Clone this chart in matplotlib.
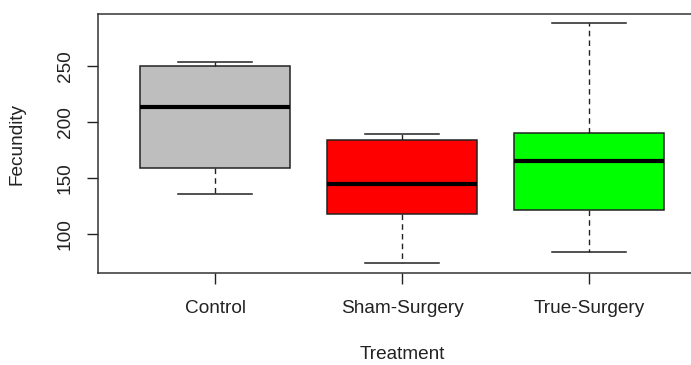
import matplotlib
matplotlib.use('Agg')
import matplotlib.pyplot as plt

plt.rcParams['font.family'] = ['Liberation Sans', 'DejaVu Sans']

# boxplot summary values
treatments = ['Control', 'Sham-Surgery', 'True-Surgery']
whisker_low = [135.6, 74.2, 84.5]
quartile_1 = [159.1, 118.4, 121.7]
medians = [213.5, 144.6, 165.3]
quartile_3 = [249.7, 183.8, 190.0]
whisker_high = [253.8, 189.4, 288.0]
box_colours = ['#bebebe', '#ff0000', '#00ff00']
y_ticks = [100, 150, 200, 250]

FONT_SIZE = 13.7

stats = []
for i, name in enumerate(treatments):
    stats.append({'label': name, 'whislo': whisker_low[i], 'q1': quartile_1[i],
                  'med': medians[i], 'q3': quartile_3[i],
                  'whishi': whisker_high[i], 'fliers': []})

fig = plt.figure(figsize=(6.91, 3.65), dpi=100)
ax = fig.add_axes([98 / 691, 92.3 / 365, 608 / 691, 259.2 / 365])

parts = ax.bxp(stats, positions=[1, 2, 3], widths=0.8, patch_artist=True,
               showfliers=False,
               boxprops=dict(edgecolor='#222222', linewidth=1.1),
               medianprops=dict(color='black', linewidth=3, solid_capstyle='butt'),
               whiskerprops=dict(color='#222222', linewidth=1, linestyle=(0, (4, 3))),
               capprops=dict(color='#222222', linewidth=1.1),
               capwidths=0.4)
for patch, colour in zip(parts['boxes'], box_colours):
    patch.set_facecolor(colour)

ax.set_xlim(0.374, 3.626)
ax.set_ylim(65.8, 296.8)

ax.set_yticks(y_ticks)
ax.set_yticklabels([str(v) for v in y_ticks], rotation=90, va='center')
ax.set_xticks([1, 2, 3])
ax.set_xticklabels(treatments)
ax.tick_params(axis='both', length=7.9, width=1, color='#222222',
               labelsize=FONT_SIZE, labelcolor='#222222')
ax.tick_params(axis='x', pad=12)
ax.tick_params(axis='y', pad=9.5)

for spine in ax.spines.values():
    spine.set_color('#333333')
    spine.set_linewidth(1.1)

ax.set_xlabel('Treatment', fontsize=FONT_SIZE, color='#222222', va='center')
ax.xaxis.set_label_coords(0.5, -0.3175)
ax.set_ylabel('Fecundity', fontsize=FONT_SIZE, color='#222222', va='center')
ax.yaxis.set_label_coords(-0.1332, 0.495)

fig.savefig('out.png', dpi=100)
